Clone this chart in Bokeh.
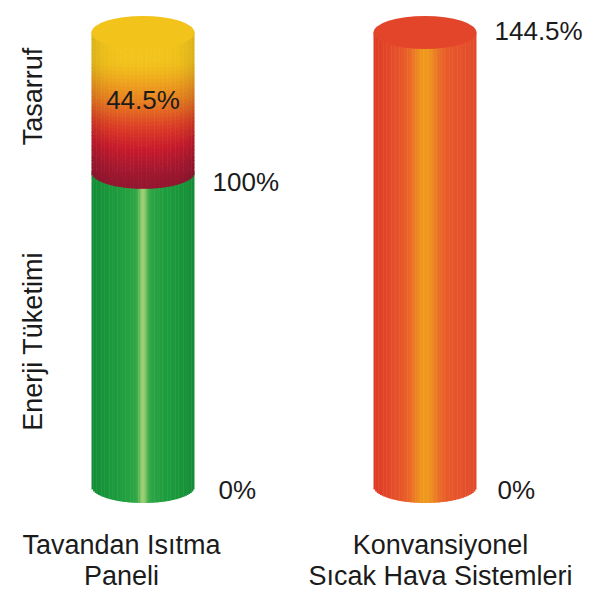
import numpy as np
from bokeh.plotting import figure
from bokeh.models import Range1d, ColumnDataSource
from bokeh.embed import file_html
from bokeh.resources import INLINE
from bokeh.core.properties import value

# ---------------- data ----------------
cat_line1 = ["Tavandan Isıtma", "Konvansiyonel"]
cat_line2 = ["Paneli", "Sıcak Hava Sistemleri"]
consumption = [100.0, 144.5]      # Enerji Tüketimi (%)
savings = [44.5, 0.0]             # Tasarruf (%)
series_names = ["Enerji Tüketimi", "Tasarruf"]

# ---------------- style ----------------
FIG_W, FIG_H = 584, 591
FONT = value("Liberation Sans")
TXT = "#1b1b1b"
PX_X = 282.0                 # px per category step
PX_Y = 3.1419                # px per percent
X0 = -142.5 / PX_X
Y_END = 144.5 + 32.0 / PX_Y
HW = 51.5 / PX_X             # cylinder half width (data units)
RY = 16.5 / PX_Y             # ellipse half height (data units)
N_COL = 64
N_ROW = 40

cons_style = ["green", "red"]
cap_colors = ["#f2c31b", "#e3452a"]


def h2r(h):
    h = h.lstrip("#")
    return np.array([int(h[i:i + 2], 16) for i in (0, 2, 4)], dtype=float)


def r2h(c):
    c = np.clip(c, 0, 255)
    return "#%02x%02x%02x" % tuple(int(round(v)) for v in c)


def mix(a, b, t):
    return a + (b - a) * t


def green_col(u):
    c = mix(h2r("#148c36"), h2r("#1fa040"), 1 - u ** 2)
    c = mix(c, h2r("#5cb852"), 0.3 * np.exp(-(u / 0.28) ** 2))
    c = mix(c, h2r("#b4d87a"), 0.85 * np.exp(-(u / 0.08) ** 2))
    return c


def red_col(u):
    side = h2r("#de3727") if u < 0 else h2r("#e24a2c")
    c = mix(side, h2r("#e85a2a"), 1 - u ** 2)
    c = mix(c, h2r("#ef9a1d"), np.exp(-(u / 0.26) ** 2))
    return c


warm_stops = [(0.0, "#951530"), (0.12, "#a5182f"), (0.25, "#c81a2c"),
              (0.38, "#dc3a26"), (0.56, "#e8801f"), (0.72, "#f0b01c"),
              (0.8, "#f2c21b"), (1.0, "#f3c61a")]


def warm_col(t, u):
    for (t0, c0), (t1, c1) in zip(warm_stops[:-1], warm_stops[1:]):
        if t <= t1:
            c = mix(h2r(c0), h2r(c1), (t - t0) / (t1 - t0))
            break
    return c * (1 - 0.1 * u ** 4)


# ---------------- geometry from data ----------------
qs = dict(left=[], right=[], top=[], bottom=[], color=[])
caps = dict(x=[], y=[], color=[])
for ci in range(len(consumption)):
    cx = float(ci)
    segs = [(0.0, consumption[ci], cons_style[ci])]
    if savings[ci] > 0:
        segs.append((consumption[ci], consumption[ci] + savings[ci], "warm"))
    for (y0, y1, sty) in segs:
        for i in range(N_COL):
            u = -1 + (i + 0.5) * 2 / N_COL
            l = cx + HW * (-1 + i * 2 / N_COL)
            r = min(l + HW * 2 / N_COL * 1.3, cx + HW)
            yb = y0 - RY * np.sqrt(max(0.0, 1 - u ** 2))
            if sty == "warm":
                for j in range(N_ROW):
                    a = yb + (y1 - yb) * j / N_ROW
                    b = yb + (y1 - yb) * (j + 1) / N_ROW + 0.2
                    qs["left"].append(l); qs["right"].append(r)
                    qs["bottom"].append(a); qs["top"].append(b)
                    qs["color"].append(r2h(warm_col((j + 0.5) / N_ROW, u)))
            else:
                col = green_col(u) if sty == "green" else red_col(u)
                qs["left"].append(l); qs["right"].append(r)
                qs["bottom"].append(yb); qs["top"].append(y1)
                qs["color"].append(r2h(col))
    caps["x"].append(cx)
    caps["y"].append(consumption[ci] + savings[ci])
    caps["color"].append(cap_colors[ci])

p = figure(width=FIG_W, height=FIG_H, output_backend="svg", toolbar_location=None,
           x_range=Range1d(X0, X0 + FIG_W / PX_X),
           y_range=Range1d(Y_END - FIG_H / PX_Y, Y_END),
           x_axis_location=None, y_axis_location=None, min_border=0,
           background_fill_color="white", border_fill_color="white")
p.outline_line_color = None
p.xgrid.visible = False
p.ygrid.visible = False

p.quad(left="left", right="right", top="top", bottom="bottom", fill_color="color",
       line_color=None, source=ColumnDataSource(qs))
p.ellipse(x="x", y="y", width=2 * HW, height=2 * RY, fill_color="color",
          line_color=None, source=ColumnDataSource(caps))


# ---------------- value labels ----------------
def fmt(v):
    return f"{v:g}%"


vl = dict(x=[], y=[], text=[], dx=[], dy=[])
for ci, dx in zip(range(len(consumption)), [24, 21]):
    vl["x"].append(ci + HW); vl["y"].append(0.0); vl["text"].append(fmt(0))
    vl["dx"].append(dx); vl["dy"].append(3)
vl["x"].append(0 + HW); vl["y"].append(consumption[0]); vl["text"].append(fmt(consumption[0]))
vl["dx"].append(18); vl["dy"].append(10)
vl["x"].append(1 + HW); vl["y"].append(consumption[1]); vl["text"].append(fmt(consumption[1]))
vl["dx"].append(18); vl["dy"].append(-2)
p.text(x="x", y="y", text="text", x_offset="dx", y_offset="dy", source=ColumnDataSource(vl),
       text_font=FONT, text_font_size="26px", text_color=TXT,
       text_align="left", text_baseline="middle")

# savings label inside
p.text(x=[0.0], y=[consumption[0] + savings[0] / 2], text=[fmt(savings[0])],
       y_offset=[-2], text_font=FONT, text_font_size="26px", text_color=TXT,
       text_align="center", text_baseline="middle")

# series labels (rotated)
p.text(x=[0 - HW, 0 - HW],
       y=[consumption[0] / 2, consumption[0] + savings[0] / 2],
       text=series_names, x_offset=[-59, -59], y_offset=[12, -6], angle=np.pi / 2,
       text_font=FONT, text_font_size="27px", text_color=TXT,
       text_align="center", text_baseline="middle")

# category labels
p.text(x=[0.0, 1.0], y=[0.0, 0.0], text=cat_line1, x_offset=[-21.5, 15.5], y_offset=[58, 58],
       text_font=FONT, text_font_size="27px", text_color=TXT,
       text_align="center", text_baseline="middle")
p.text(x=[0.0, 1.0], y=[0.0, 0.0], text=cat_line2, x_offset=[-21.5, 15.5], y_offset=[89, 89],
       text_font=FONT, text_font_size="27px", text_color=TXT,
       text_align="center", text_baseline="middle")

open("out.html", "w").write(file_html(p, INLINE))
